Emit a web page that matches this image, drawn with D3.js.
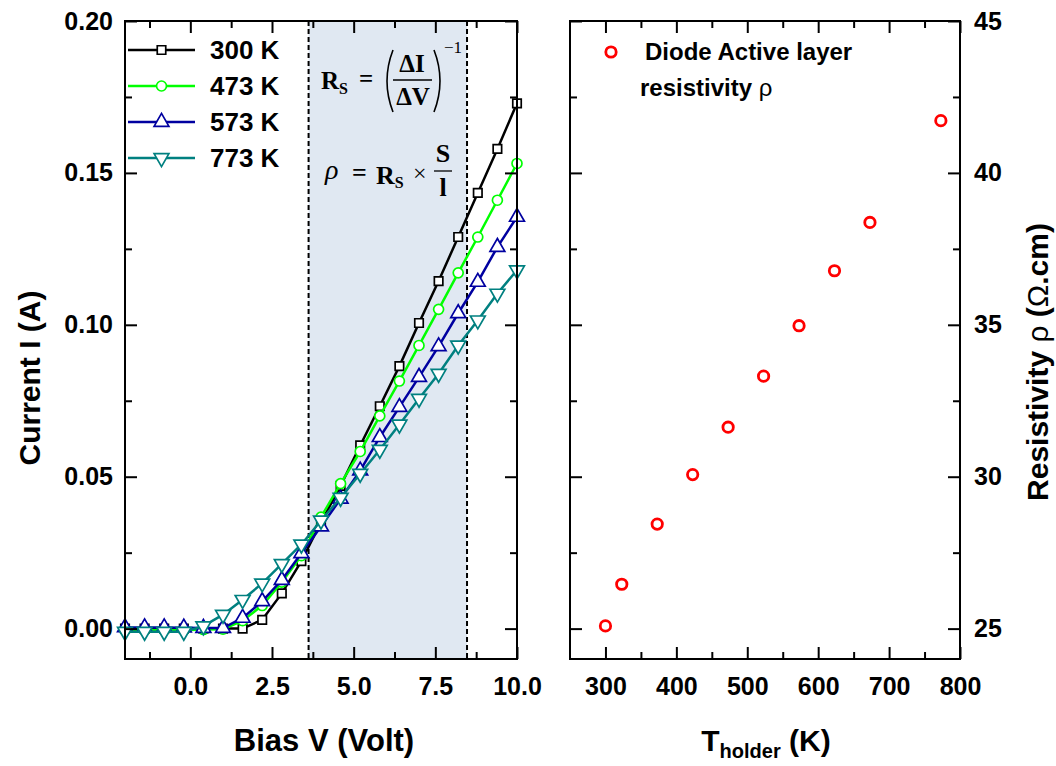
<!DOCTYPE html>
<html><head><meta charset="utf-8">
<script src="https://cdn.jsdelivr.net/npm/d3@7"></script>
<style>body{margin:0;background:#fff}svg{display:block}</style>
</head><body><svg id="c" width="1056" height="766"></svg>
<script>
// ---------- data ----------
const biasV = [-2.0,-1.4,-0.8,-0.2,0.4,1.0,1.6,2.2,2.8,3.4,4.0,4.6,5.2,5.8,6.4,7.0,7.6,8.2,8.8,9.4,10.0];
const I300 = [0,0,0,0,0,0,0,0.0029,0.0116,0.0222,0.035,0.047,0.0603,0.0732,0.0864,0.1006,0.1144,0.1289,0.1434,0.1579,0.1729];
const I473 = [-0.0005,-0.0005,-0.0005,-0.0005,-0.0003,-0.0002,0.0026,0.0076,0.0153,0.024,0.0367,0.0477,0.0583,0.0700,0.0815,0.0932,0.1051,0.1171,0.1289,0.1410,0.1531];
const I573 = [0.0004,0.0004,0.0004,0.0003,0.0002,0.0002,0.0035,0.0090,0.0160,0.0248,0.0336,0.0427,0.052,0.0630,0.0729,0.0828,0.0929,0.1038,0.1141,0.1256,0.1355];
const I773 = [-0.001,-0.001,-0.001,-0.001,0.0008,0.0046,0.0095,0.0149,0.0213,0.0277,0.0356,0.0431,0.051,0.0589,0.0672,0.0757,0.0839,0.0932,0.1015,0.1103,0.1180];
const seriesNames = ["300 K","473 K","573 K","773 K"];
const tHolder = [300,323,373,423,473,523,573,623,673,773];
const rho = [25.09,26.46,28.44,30.07,31.63,33.31,34.97,36.78,38.37,41.72];
const xTicksL = [0,2.5,5,7.5,10];
const xMinorL = [-1.25,1.25,3.75,6.25,8.75];
const yTicksL = [0,0.05,0.10,0.15,0.20];
const yMinorL = [0.025,0.075,0.125,0.175];
const xTicksR = [300,400,500,600,700,800];
const xMinorR = [350,450,550,650,750];
const yTicksR = [25,30,35,40,45];
const yMinorR = [27.5,32.5,37.5,42.5];
const shadeV = [3.62,8.47];

// ---------- styles ----------
const colors = ["#000000","#00ff00","#0000a0","#008080"];
const shapes = [d3.symbolSquare,d3.symbolCircle,d3.symbolTriangle,d3.symbolTriangle];
const shapeSize = [72,78,95,95];
const shapeRot = [0,0,0,180];
const sans = "'Liberation Sans', Arial, sans-serif";
const serif = "'Liberation Serif', 'Times New Roman', serif";

const svg = d3.select("#c");
const L = {x0:125,x1:517,y0:21,y1:659};
const R = {x0:570,x1:960,y0:21,y1:659};

const xL = d3.scaleLinear().domain([-2,10]).range([L.x0,L.x1]);
const yL = d3.scaleLinear().domain([-0.01,0.20]).range([L.y1,L.y0]);
const xR = d3.scaleLinear().domain([250,800]).range([R.x0,R.x1]);
const yR = d3.scaleLinear().domain([24,45]).range([R.y1,R.y0]);

function frameAxes(P, xs, ys, xT, xM, yT, yM, xFmt, yFmt, yLabelSide){
  const g = svg.append("g");
  const ax = (gen, tr) => {
    const a = g.append("g").attr("transform", tr).call(gen);
    a.select(".domain").remove();
    a.selectAll("line").attr("stroke","#000").attr("stroke-width",2);
    a.selectAll("text").attr("font-family",sans).attr("font-weight","bold").attr("font-size",25).attr("fill","#000");
    return a;
  };
  ax(d3.axisBottom(xs).tickValues(xT).tickSize(-12).tickPadding(18).tickFormat(xFmt), `translate(0,${P.y1})`);
  ax(d3.axisBottom(xs).tickValues(xM).tickSize(-7).tickFormat(""), `translate(0,${P.y1})`);
  ax(d3.axisTop(xs).tickValues(xT).tickSize(-12).tickFormat(""), `translate(0,${P.y0})`);
  ax(d3.axisTop(xs).tickValues(xM).tickSize(-7).tickFormat(""), `translate(0,${P.y0})`);
  ax(d3.axisLeft(ys).tickValues(yT).tickSize(-12).tickPadding(12).tickFormat(yLabelSide==="left"?yFmt:""), `translate(${P.x0},0)`);
  ax(d3.axisLeft(ys).tickValues(yM).tickSize(-7).tickFormat(""), `translate(${P.x0},0)`);
  ax(d3.axisRight(ys).tickValues(yT).tickSize(-12).tickPadding(14).tickFormat(yLabelSide==="right"?yFmt:""), `translate(${P.x1},0)`);
  ax(d3.axisRight(ys).tickValues(yM).tickSize(-7).tickFormat(""), `translate(${P.x1},0)`);
  g.append("rect").attr("x",P.x0).attr("y",P.y0).attr("width",P.x1-P.x0).attr("height",P.y1-P.y0)
    .attr("fill","none").attr("stroke","#000").attr("stroke-width",2);
}

// ---------- left panel ----------
svg.append("rect").attr("x",xL(shadeV[0])).attr("y",L.y0+1).attr("width",xL(shadeV[1])-xL(shadeV[0])).attr("height",L.y1-L.y0-2)
  .attr("fill","#e0e8f2");
shadeV.forEach(v=>{
  svg.append("line").attr("x1",xL(v)).attr("x2",xL(v)).attr("y1",L.y0).attr("y2",L.y1)
    .attr("stroke","#000").attr("stroke-width",2).attr("stroke-dasharray","5,3");
});

const seriesData = [I300,I473,I573,I773];
const line = d3.line().x((d,i)=>xL(biasV[i])).y(d=>yL(d));
seriesData.forEach((s,k)=>{
  const g = svg.append("g");
  g.append("path").datum(s).attr("d",line).attr("fill","none").attr("stroke",colors[k]).attr("stroke-width",2.5);
  g.selectAll("path.m").data(s).enter().append("path").attr("class","m")
    .attr("d",d3.symbol().type(shapes[k]).size(shapeSize[k]))
    .attr("transform",(d,i)=>`translate(${xL(biasV[i])},${yL(d)}) rotate(${shapeRot[k]})`)
    .attr("fill","#fff").attr("stroke",colors[k]).attr("stroke-width",1.7);
});

frameAxes(L, xL, yL, xTicksL, xMinorL, yTicksL, yMinorL, d3.format(".1f"), d3.format(".2f"), "left");

// legend left
const legY = [50,86,122,158];
seriesNames.forEach((n,k)=>{
  svg.append("line").attr("x1",128).attr("x2",195).attr("y1",legY[k]).attr("y2",legY[k]).attr("stroke",colors[k]).attr("stroke-width",2.5);
  svg.append("path").attr("d",d3.symbol().type(shapes[k]).size(shapeSize[k]))
    .attr("transform",`translate(161.5,${legY[k]}) rotate(${shapeRot[k]})`)
    .attr("fill","#fff").attr("stroke",colors[k]).attr("stroke-width",1.7);
  svg.append("text").attr("x",210).attr("y",legY[k]+9).text(n)
    .attr("font-family",sans).attr("font-weight","bold").attr("font-size",26);
});

// formulas
const f = svg.append("g").attr("font-family",serif).attr("font-weight","bold").attr("fill","#000");
const t1 = f.append("text").attr("x",321).attr("y",89).attr("font-size",25);
t1.append("tspan").text("R");
t1.append("tspan").attr("font-size",16).attr("dy",5).text("S");
f.append("text").attr("x",359).attr("y",87).attr("font-size",25).text("=");
// big thin parentheses drawn as strokes
f.append("path").attr("d","M393,50 Q381,81 393,112").attr("fill","none").attr("stroke","#000").attr("stroke-width",1.6);
f.append("path").attr("d","M434,50 Q446,81 434,112").attr("fill","none").attr("stroke","#000").attr("stroke-width",1.6);
f.append("text").attr("x",412).attr("y",72).attr("font-size",25).attr("text-anchor","middle").text("ΔI");
f.append("line").attr("x1",393).attr("x2",432).attr("y1",80).attr("y2",80).attr("stroke","#000").attr("stroke-width",1.3);
f.append("text").attr("x",413).attr("y",105).attr("font-size",25).attr("text-anchor","middle").text("ΔV");
f.append("text").attr("x",444).attr("y",53).attr("font-size",17).attr("font-weight","normal").text("−1");

f.append("text").attr("x",325).attr("y",179).attr("font-size",28).attr("font-style","italic").attr("font-weight","normal").text("ρ");
f.append("text").attr("x",352).attr("y",181).attr("font-size",26).text("=");
const t2 = f.append("text").attr("x",376).attr("y",184).attr("font-size",26);
t2.append("tspan").text("R");
t2.append("tspan").attr("font-size",16).attr("dy",4).text("S");
f.append("text").attr("x",413).attr("y",181).attr("font-size",24).attr("font-weight","normal").text("×");
f.append("text").attr("x",443).attr("y",162).attr("font-size",26).attr("text-anchor","middle").text("S");
f.append("line").attr("x1",434).attr("x2",452).attr("y1",171).attr("y2",171).attr("stroke","#000").attr("stroke-width",1.3);
f.append("text").attr("x",443).attr("y",196).attr("font-size",26).attr("text-anchor","middle").text("l");

// ---------- right panel ----------
svg.append("g").selectAll("circle").data(rho).enter().append("circle")
  .attr("cx",(d,i)=>xR(tHolder[i])).attr("cy",d=>yR(d)).attr("r",5.2)
  .attr("fill","none").attr("stroke","#ff0000").attr("stroke-width",2.8);

frameAxes(R, xR, yR, xTicksR, xMinorR, yTicksR, yMinorR, d3.format("d"), d3.format("d"), "right");

svg.append("circle").attr("cx",611).attr("cy",52).attr("r",5.2).attr("fill","none").attr("stroke","#ff0000").attr("stroke-width",2.8);
svg.append("text").attr("x",645).attr("y",60).attr("font-family",sans).attr("font-weight","bold").attr("font-size",24).text("Diode Active layer");
const rl = svg.append("text").attr("x",640).attr("y",96).attr("font-family",sans).attr("font-weight","bold").attr("font-size",24);
rl.append("tspan").text("resistivity ");
rl.append("tspan").attr("font-weight","normal").text("ρ");

// ---------- axis titles ----------
svg.append("text").attr("transform","translate(40,378) rotate(-90)").attr("text-anchor","middle")
  .attr("font-family",sans).attr("font-weight","bold").attr("font-size",30).text("Current I (A)");
svg.append("text").attr("x",324).attr("y",751).attr("text-anchor","middle")
  .attr("font-family",sans).attr("font-weight","bold").attr("font-size",31).text("Bias V (Volt)");
const tx = svg.append("text").attr("x",766).attr("y",751).attr("text-anchor","middle")
  .attr("font-family",sans).attr("font-weight","bold").attr("font-size",30);
tx.append("tspan").text("T");
tx.append("tspan").attr("font-size",20).attr("dy",7).text("holder");
tx.append("tspan").attr("dy",-7).text(" (K)");
const ry = svg.append("text").attr("transform","translate(1048,362) rotate(-90)").attr("text-anchor","middle")
  .attr("font-family",sans).attr("font-weight","bold").attr("font-size",30);
ry.append("tspan").text("Resistivity ");
ry.append("tspan").attr("font-weight","normal").text("ρ");
ry.append("tspan").text(" (");
ry.append("tspan").attr("font-weight","normal").text("Ω");
ry.append("tspan").text(".cm)");
</script></body></html>
